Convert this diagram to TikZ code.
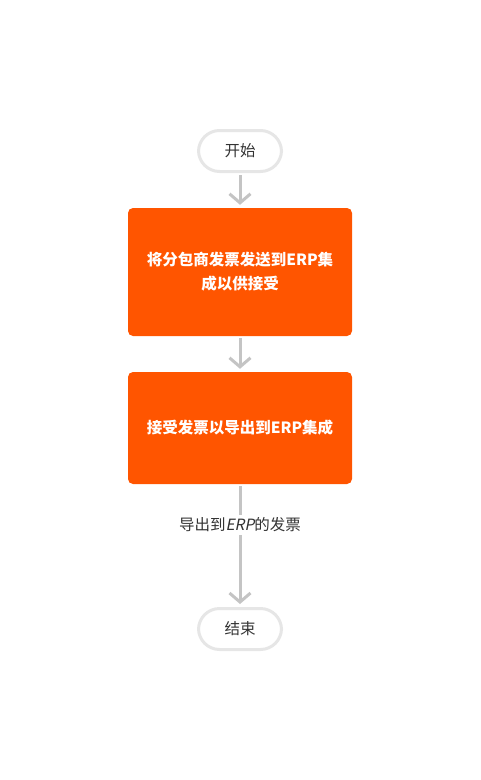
\documentclass[tikz,border=0pt]{standalone}
\usepackage{fontspec}
\setmainfont{Noto Sans CJK SC}[ItalicFont={Noto Sans CJK SC},ItalicFeatures={FakeSlant=0.2}]
\usetikzlibrary{arrows.meta}
\definecolor{erporange}{HTML}{FF5500}
\definecolor{linkgray}{HTML}{C4C4C4}
\definecolor{termgray}{HTML}{E6E6E6}
\definecolor{textdark}{HTML}{333333}
\tikzset{
  >={Straight Barb[length=9pt,width=21pt]},
}
\tikzstyle{terminal}=[draw=termgray,line width=3pt,fill=white,rounded corners=21pt,
  minimum width=83pt,minimum height=41pt,text=textdark,font=\fontsize{15.5}{18}\selectfont]
\tikzstyle{process}=[fill=erporange,rounded corners=5pt,minimum width=224pt,
  text=white,align=center,font=\bfseries\fontsize{15.5}{24}\selectfont]
\tikzstyle{link}=[draw=linkgray,line width=3pt,->]
\tikzstyle{linklabel}=[fill=white,text=textdark,font=\fontsize{15.5}{18}\selectfont,inner sep=3pt]

\begin{document}
\begin{tikzpicture}[x=1pt,y=-1pt]
    \useasboundingbox (0,0) rectangle (480,780);
    \node[terminal] (start) at (240,151) {开始};
    \node[process,minimum height=128pt] (send) at (240,272)
      {将分包商发票发送到ERP集\\成以供接受};
    \node[process,minimum height=112pt] (accept) at (240,428)
      {接受发票以导出到ERP集成};
    \node[terminal] (end) at (240,629) {结束};
    \draw[link] ([yshift=-2pt]start.south) -- ([yshift=3pt]send.north);
    \draw[link] ([yshift=-2pt]send.south) -- ([yshift=3pt]accept.north);
    \draw[link] ([yshift=-2pt]accept.south) -- ([yshift=3pt]end.north)
      node[linklabel,pos=0.33]{导出到\textit{ERP}的发票};
\end{tikzpicture}
\end{document}
